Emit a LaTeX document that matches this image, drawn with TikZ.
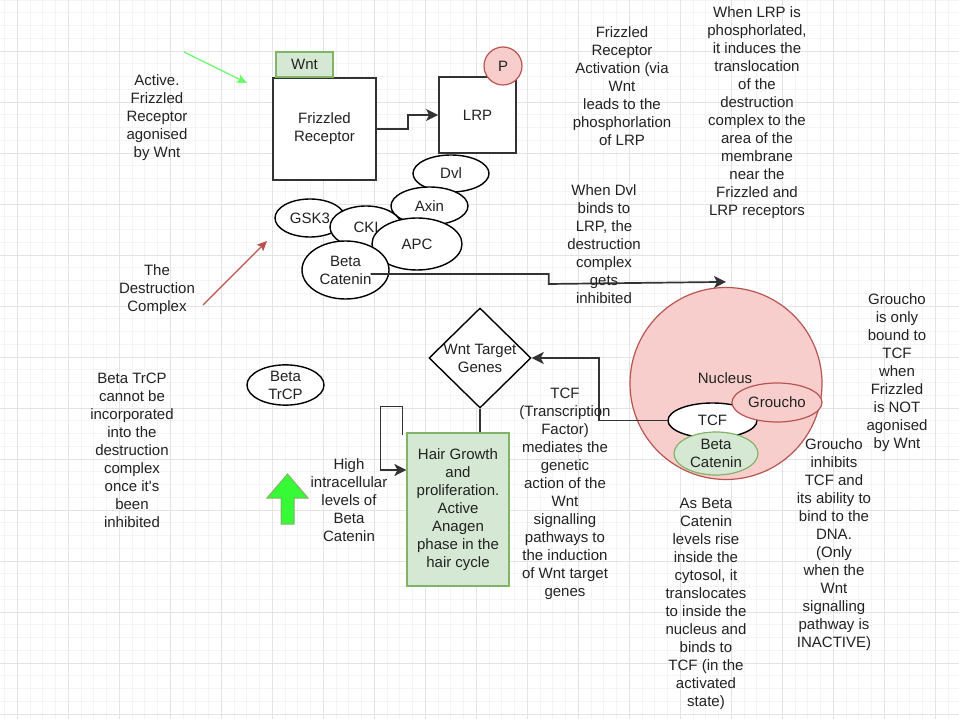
\documentclass[tikz,border=0pt]{standalone}
\usepackage{fontspec}
\setmainfont{Liberation Sans}
\usetikzlibrary{arrows.meta,positioning,shapes.geometric}
\definecolor{InkDark}{RGB}{34,34,34}
\definecolor{EdgeDark}{RGB}{51,51,51}
\definecolor{LeafFill}{RGB}{213,232,212}
\definecolor{LeafEdge}{RGB}{130,179,102}
\definecolor{RoseFill}{RGB}{248,206,204}
\definecolor{RoseEdge}{RGB}{184,84,80}
\definecolor{LimeArrow}{RGB}{110,250,110}
\definecolor{BrightGreen}{RGB}{55,250,55}
\definecolor{GridMinor}{RGB}{244,244,244}
\definecolor{GridMajor}{RGB}{227,227,227}
\tikzset{
  box/.style={rectangle, draw=EdgeDark, line width=1.8pt, fill=white,
    align=center, inner sep=0pt},
  greenbox/.style={rectangle, draw=LeafEdge, line width=1.2pt, fill=LeafFill,
    align=center, inner sep=0pt},
  blob/.style={ellipse, draw=black, line width=1.4pt, fill=white,
    align=center, inner sep=0pt},
  greenblob/.style={blob, draw=LeafEdge, fill=LeafFill},
  roseblob/.style={blob, draw=RoseEdge, fill=RoseFill},
  note/.style={align=center, inner sep=0pt},
  arrow/.style={-{Stealth[length=12pt, width=12pt, inset=3pt]}, line width=1.7pt, draw=EdgeDark},
  link/.style={line width=1.7pt, draw=EdgeDark},
  pointer/.style={-{Stealth[length=10pt, width=9pt, inset=2pt]}, line width=1.3pt}
}
\begin{document}
\begin{tikzpicture}[x=1pt, y=-1pt,
  every node/.style={font=\fontsize{15}{18}\selectfont, text=InkDark}]
  % page and grid
  \useasboundingbox[fill=white] (0,0) rectangle (959,719);
  \foreach \i in {0,...,74} \draw[GridMinor, line width=0.8pt] ({4.55+12.75*\i},0) -- ++(0,719);
  \foreach \i in {0,...,56} \draw[GridMinor, line width=0.8pt] (0,{12.75*\i}) -- ++(959,0);
  \foreach \i in {0,...,18} \draw[GridMajor, line width=0.9pt] ({17.3+51*\i},0) -- ++(0,719);
  \foreach \i in {1,...,14} \draw[GridMajor, line width=0.9pt] (0,{51*\i}) -- ++(959,0);

  % receptors
  \node[box, minimum width=103pt, minimum height=102pt] (fz) at (324.5,129) {Frizzled\\Receptor};
  \node[greenbox, minimum width=57pt, minimum height=25pt] (wnt) at (304.5,64.5) {Wnt};
  \node[box, minimum width=77pt, minimum height=76pt] (lrp) at (477.5,115) {LRP};
  \node[circle, draw=RoseEdge, fill=RoseFill, line width=1.2pt, minimum size=38pt, inner sep=0pt] (phos) at (503,66) {P};
  \draw[arrow] (fz.east) -- ++(31,0) |- (lrp.west);

  % destruction complex
  \node[blob, minimum width=76pt, minimum height=37pt] (dvl) at (451,173.5) {Dvl};
  \node[blob, minimum width=77pt, minimum height=38pt] (axin) at (429.5,206) {Axin};
  \node[blob, minimum width=70pt, minimum height=38pt] (gsk) at (310,218) {GSK3};
  \node[blob, minimum width=72pt, minimum height=42pt] (cki) at (366,227) {CKI};
  \node[blob, minimum width=90pt, minimum height=52pt] (apc) at (417,244) {APC};
  \node[blob, minimum width=87pt, minimum height=58pt] (bcat) at (345.5,270) {Beta\\Catenin};

  % nucleus
  \node[circle, draw=RoseEdge, fill=RoseFill, line width=1.2pt, minimum size=192pt, inner sep=0pt] (nuc) at (726,383.5) {};
  \node[note] (nuctxt) at (725,378) {Nucleus};
  \node[blob, minimum width=89pt, minimum height=35pt] (tcf) at (712.5,420.5) {TCF};
  \node[roseblob, line width=1.2pt, minimum width=90pt, minimum height=39pt] (grou) at (777,402.5) {Groucho};
  \node[greenblob, line width=1.2pt, minimum width=84pt, minimum height=43pt] (nbcat) at (716,453.5) {Beta\\Catenin};
  \draw[arrow] ([xshift=-19pt,yshift=-4pt]bcat.east) -- ++(178,0) -- ++(0,10) -- ([yshift=5pt]nuc.north);

  % target genes and hair growth
  \node[diamond, draw=black, line width=1.4pt, fill=white, minimum width=102pt, minimum height=100pt, inner sep=0pt] (genes) at (480,358) {};
  \node[note] (genestxt) at (genes.center) {Wnt Target\\Genes};
  \node[greenbox, minimum width=102pt, minimum height=153pt] (hair) at (458,509.5)
    {Hair Growth\\and\\proliferation.\\Active\\Anagen\\phase in the\\hair cycle};
  \draw[arrow] (tcf.west) -- ++(-68,0) |- (genes.east);
  \draw[link] (genes.south) -- (genes.south |- hair.north);
  \draw[arrow] ([xshift=-4pt,yshift=-3pt]hair.north west) -- ++(0,-29) -- ++(-22,0) |- ([yshift=39.5pt]hair.west);

  \node[blob, minimum width=77pt, minimum height=34pt] (trcp) at (285.5,385) {Beta\\TrCP};
  \draw[LeafEdge, fill=BrightGreen, line width=1pt]
    (267,498) -- (287.5,474) -- (308,498) -- (294,498) -- (294,524) -- (281,524) -- (281,498) -- cycle;

  % pointers
  \coordinate (lfrom) at (184,52);
  \coordinate (lto) at (247,83);
  \draw[pointer, LimeArrow] (lfrom) -- (lto);
  \coordinate (rfrom) at (203,305);
  \coordinate (rto) at (267,241);
  \draw[pointer, RoseEdge] (rfrom) -- (rto);

  % notes
  \node[note] (nactive) at (157,118) {Active.\\Frizzled\\Receptor\\agonised\\by Wnt};
  \node[note] (ncomplex) at (157,290) {The\\Destruction\\Complex};
  \node[note] (nfzact) at (622,86) {Frizzled\\Receptor\\Activation (via\\Wnt\\leads to the\\phosphorlation\\of LRP};
  \node[note] (nlrp) at (757,113) {When LRP is\\phosphorlated,\\it induces the\\translocation\\of the\\destruction\\complex to the\\area of the\\membrane\\near the\\Frizzled and\\LRP receptors};
  \node[note] (ndvl) at (604,244) {When Dvl\\binds to\\LRP, the\\destruction\\complex\\gets\\inhibited};
  \node[note] (nbound) at (897,373) {Groucho\\is only\\bound to\\TCF\\when\\Frizzled\\is NOT\\agonised\\by Wnt};
  \node[note] (ninhib) at (834,545) {Groucho\\inhibits\\TCF and\\its ability to\\bind to the\\DNA.\\(Only\\when the\\Wnt\\signalling\\pathway is\\INACTIVE)};
  \node[note] (nrise) at (706,604) {As Beta\\Catenin\\levels rise\\inside the\\cytosol, it\\translocates\\to inside the\\nucleus and\\binds to\\TCF (in the\\activated\\state)};
  \node[note] (ntcf) at (565,494) {TCF\\(Transcription\\Factor)\\mediates the\\genetic\\action of the\\Wnt\\signalling\\pathways to\\the induction\\of Wnt target\\genes};
  \node[note] (nhigh) at (349,500) {High\\intracellular\\levels of\\Beta\\Catenin};
  \node[note] (ntrcp) at (132,450) {Beta TrCP\\cannot be\\incorporated\\into the\\destruction\\complex\\once it\textquotesingle s\\been\\inhibited};
\end{tikzpicture}
\end{document}
